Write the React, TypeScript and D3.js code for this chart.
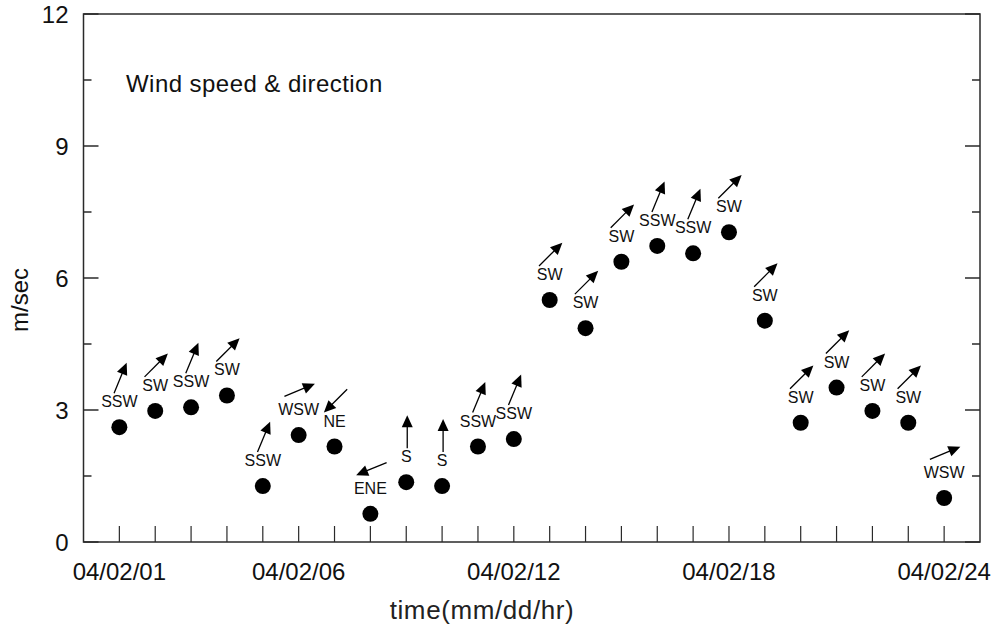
import { useEffect, useRef } from 'react';
import * as d3 from 'd3';

// hourly observations, 04/02
const hours = [1, 2, 3, 4, 5, 6, 7, 8, 9, 10, 11, 12, 13, 14, 15, 16, 17, 18, 19, 20, 21, 22, 23, 24];
const speeds = [2.61, 2.98, 3.06, 3.33, 1.27, 2.43, 2.17, 0.64, 1.36, 1.27, 2.17, 2.34,
  5.5, 4.86, 6.37, 6.73, 6.56, 7.04, 5.03, 2.71, 3.51, 2.98, 2.71, 1.0];
const directions = ['SSW', 'SW', 'SSW', 'SW', 'SSW', 'WSW', 'NE', 'ENE', 'S', 'S', 'SSW', 'SSW',
  'SW', 'SW', 'SW', 'SSW', 'SSW', 'SW', 'SW', 'SW', 'SW', 'SW', 'SW', 'WSW'];

const xTickHours = [1, 6, 12, 18, 24];
const xTickLabels = ['04/02/01', '04/02/06', '04/02/12', '04/02/18', '04/02/24'];
const yMajorTicks = [0, 3, 6, 9, 12];
const yMinorTicks = [1.5, 4.5, 7.5, 10.5];

// compass bearing the wind comes from
const bearings: Record<string, number> = {
  N: 0, NNE: 22.5, NE: 45, ENE: 67.5, E: 90, ESE: 112.5, SE: 135, SSE: 157.5,
  S: 180, SSW: 202.5, SW: 225, WSW: 247.5, W: 270, WNW: 292.5, NW: 315, NNW: 337.5,
};

const WIDTH = 999;
const HEIGHT = 630;
const FONT = '"Liberation Sans", Arial, Helvetica, sans-serif';

const App = () => {
  const svgRef = useRef<SVGSVGElement>(null);

  useEffect(() => {
    if (!svgRef.current) return;
    const svg = d3.select(svgRef.current);
    svg.selectAll('*').remove();

    const left = 83.5, right = 980, top = 14, bottom = 542;
    const x = d3.scaleLinear().domain([0, 25]).range([left, right]);
    const y = d3.scaleLinear().domain([0, 12]).range([bottom, top]);
    const axisColor = '#2a2a2a';

    const g = svg.append('g');

    // frame
    g.append('rect')
      .attr('x', left).attr('y', top)
      .attr('width', right - left).attr('height', bottom - top)
      .attr('fill', 'none')
      .attr('stroke', axisColor)
      .attr('stroke-width', 1.5);

    // y ticks, inward on both sides
    const yTicks = [
      ...yMajorTicks.map(v => ({ v, len: 15 })),
      ...yMinorTicks.map(v => ({ v, len: 8 })),
    ];
    g.selectAll('.ytick-l')
      .data(yTicks)
      .join('line')
      .attr('x1', left).attr('x2', d => left + d.len)
      .attr('y1', d => y(d.v)).attr('y2', d => y(d.v))
      .attr('stroke', axisColor).attr('stroke-width', 1.5);
    g.selectAll('.ytick-r')
      .data(yTicks)
      .join('line')
      .attr('x1', right).attr('x2', d => right - d.len)
      .attr('y1', d => y(d.v)).attr('y2', d => y(d.v))
      .attr('stroke', axisColor).attr('stroke-width', 1.5);

    g.selectAll('.ylabel')
      .data(yMajorTicks)
      .join('text')
      .attr('x', left - 15)
      .attr('y', d => y(d) + 8.5)
      .attr('text-anchor', 'end')
      .style('font-family', FONT)
      .style('font-size', '24px')
      .style('fill', '#111')
      .text(d => String(d));

    // x ticks, one per hour
    g.selectAll('.xtick')
      .data(hours)
      .join('line')
      .attr('x1', d => x(d)).attr('x2', d => x(d))
      .attr('y1', bottom).attr('y2', bottom - 16)
      .attr('stroke', axisColor).attr('stroke-width', 1.2);

    g.selectAll('.xlabel')
      .data(xTickHours)
      .join('text')
      .attr('x', d => x(d))
      .attr('y', 580)
      .attr('text-anchor', 'middle')
      .style('font-family', FONT)
      .style('font-size', '24px')
      .style('fill', '#111')
      .text((_d, i) => xTickLabels[i]);

    // axis titles
    g.append('text')
      .attr('x', 482)
      .attr('y', 619)
      .attr('text-anchor', 'middle')
      .style('font-family', FONT)
      .style('font-size', '26px')
      .style('letter-spacing', '0.6px')
      .style('fill', '#222')
      .text('time(mm/dd/hr)');

    g.append('text')
      .attr('transform', 'translate(28,300) rotate(-90)')
      .attr('text-anchor', 'middle')
      .style('font-family', FONT)
      .style('font-size', '24px')
      .style('fill', '#111')
      .text('m/sec');

    g.append('text')
      .attr('x', 126)
      .attr('y', 92)
      .style('font-family', FONT)
      .style('font-size', '24px')
      .style('letter-spacing', '0.45px')
      .style('fill', '#111')
      .text('Wind speed & direction');

    const points = hours.map((h, i) => ({ h, v: speeds[i], dir: directions[i] }));

    // dots
    g.selectAll('.dot')
      .data(points)
      .join('circle')
      .attr('cx', d => x(d.h))
      .attr('cy', d => y(d.v))
      .attr('r', 8)
      .attr('fill', '#000');

    // direction labels
    g.selectAll('.dir')
      .data(points)
      .join('text')
      .attr('x', d => x(d.h))
      .attr('y', d => y(d.v) - 20)
      .attr('text-anchor', 'middle')
      .style('font-family', FONT)
      .style('font-size', '16px')
      .style('fill', '#111')
      .text(d => d.dir);

    // arrows pointing downwind
    const L = 33, headLen = 12, headHalf = 5.5;
    const arrows = g.selectAll('.arrow')
      .data(points)
      .join('g')
      .attr('transform', d => {
        const to = ((bearings[d.dir] + 180) % 360) * Math.PI / 180;
        const hv = (L / 2) * Math.abs(Math.cos(to));
        const cx = x(d.h) + 1;
        const cy = y(d.v) - Math.max(45, 34 + hv);
        const deg = (to * 180 / Math.PI) - 90;
        return `translate(${cx},${cy}) rotate(${deg})`;
      });
    arrows.append('line')
      .attr('x1', -L / 2).attr('y1', 0)
      .attr('x2', L / 2 - headLen + 1).attr('y2', 0)
      .attr('stroke', '#000')
      .attr('stroke-width', 1.3);
    arrows.append('path')
      .attr('d', `M${L / 2},0 L${L / 2 - headLen},${-headHalf} L${L / 2 - headLen},${headHalf} Z`)
      .attr('fill', '#000');
  }, []);

  return (
    <svg
      ref={svgRef}
      width={WIDTH}
      height={HEIGHT}
      style={{ position: 'absolute', left: 0, top: 0, background: '#fff' }}
    />
  );
};

export default App;
